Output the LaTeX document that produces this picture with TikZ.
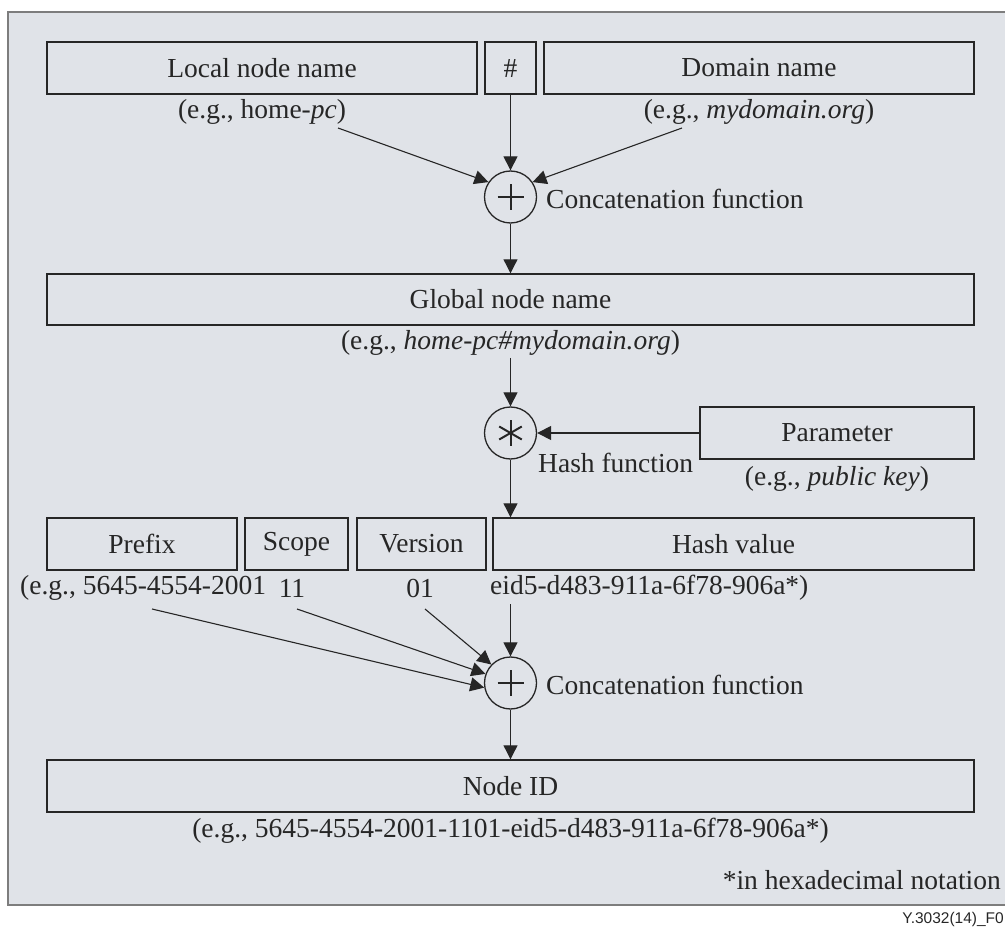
\documentclass[tikz,border=0pt]{standalone}
\usepackage{fontspec}
\setmainfont{Liberation Serif}
\setsansfont{Liberation Sans}
\usetikzlibrary{arrows.meta}
\definecolor{bgc}{RGB}{224,227,232}
\definecolor{framec}{RGB}{125,125,125}
\definecolor{inkc}{RGB}{38,38,38}
\begin{document}
\begin{tikzpicture}[x=1pt,y=-1pt,
  every node/.style={text=inkc, font=\fontsize{27.5}{32}\selectfont},
  box/.style={draw=inkc, line width=1.4pt, minimum height=52pt, inner sep=0pt},
  lbl/.style={inner sep=0pt},
  op/.style={circle, draw=inkc, line width=1.3pt, minimum size=52pt, inner sep=0pt},
  sym/.style={draw=inkc, line width=2pt},
  arr/.style={draw=inkc, line width=1.1pt, -{Triangle[length=14pt,width=14pt]}},
]
\useasboundingbox (0,0) rectangle (1005,928);
\fill[bgc] (8,12) rectangle (1012,905);
\draw[framec, line width=1.5pt] (1012,12) -- (8,12) -- (8,905) -- (1012,905);

% top row
\node[box, minimum width=430pt] (local) at (262,68) {Local node name};
\node[box, minimum width=51pt] (sep) at (510.5,68) {\#};
\node[box, minimum width=430pt] (domain) at (759,68) {Domain name};
\node[lbl] (llocal) at (262,112) {(e.g., home-\textit{pc})};
\node[lbl] (ldomain) at (759,112) {(e.g., \textit{mydomain.org})};
\coordinate (a0) at (338,128);
\coordinate (b0) at (682,128);

\node[op] (c1) at (510.5,197) {};
\draw[sym] ([xshift=-13pt]c1.center) -- ([xshift=13pt]c1.center);
\draw[sym] ([yshift=-13pt]c1.center) -- ([yshift=13pt]c1.center);
\node[lbl, anchor=west] (f1) at (546,199) {Concatenation function};

\draw[arr] (sep.south) -- (c1.north);
\draw[arr] (a0) -- (c1.146);
\draw[arr] (b0) -- (c1.34);

% global
\node[box, minimum width=927pt, minimum height=51pt] (global) at (510.5,299.5) {Global node name};
\node[lbl] (lglobal) at (510.5,343) {(e.g., \textit{home-pc\#mydomain.org})};
\draw[arr] (c1.south) -- (c1 |- global.north);
\coordinate (g0) at (510.5,358);

% hash
\node[op] (c2) at (510.5,433) {};
\foreach \a in {90,30,150} {
  \draw[sym] ([shift={(\a:13pt)}]c2.center) -- ([shift={(\a+180:13pt)}]c2.center);
}
\node[box, minimum width=274pt] (param) at (837,433) {Parameter};
\node[lbl, anchor=west] (f2) at (538,463) {Hash function};
\node[lbl] (lparam) at (837,479) {(e.g., \textit{public key})};
\draw[arr] (g0) -- (c2.north);
\draw[arr] (param.west) -- (c2.east);

% row
\node[box, minimum width=190pt] (prefix) at (142,544) {Prefix};
\node[box, minimum width=103pt] (scope) at (296.5,544) {Scope};
\node[box, minimum width=129pt] (version) at (421.5,544) {Version};
\node[box, minimum width=481pt] (hashval) at (733.5,544) {Hash value};
\draw[arr] (c2.south) -- (c2 |- hashval.north);

\node[lbl, anchor=west] (lprefix) at (20,588) {(e.g., 5645-4554-2001};
\node[lbl] (lscope) at (292,588) {11};
\node[lbl] (lversion) at (420,588) {01};
\node[lbl, anchor=west] (lhash) at (490,588) {eid5-d483-911a-6f78-906a*)};
\coordinate (p0) at (152,609);
\coordinate (s0) at (297,609);
\coordinate (v0) at (425,609);
\coordinate (h0) at (510.5,604);

\node[op] (c3) at (510.5,683) {};
\draw[sym] ([xshift=-13pt]c3.center) -- ([xshift=13pt]c3.center);
\draw[sym] ([yshift=-13pt]c3.center) -- ([yshift=13pt]c3.center);
\node[lbl, anchor=west] (f3) at (546,685) {Concatenation function};

\draw[arr] (h0) -- (c3.north);
\draw[arr] (v0) -- (c3.136);
\draw[arr] (s0) -- (c3.160);
\draw[arr] (p0) -- (c3.190);

% node id
\node[box, minimum width=927pt] (nodeid) at (510.5,786) {Node ID};
\draw[arr] (c3.south) -- (c3 |- nodeid.north);
\node[lbl] (lnodeid) at (510.5,831) {(e.g., 5645-4554-2001-1101-eid5-d483-911a-6f78-906a*)};

\node[lbl, anchor=east] (note) at (1001,880) {*in hexadecimal notation};
\node[lbl, anchor=east, font=\sffamily\fontsize{15.5}{18}\selectfont] (fig) at (1004,919) {Y.3032(14)\_F0};
\end{tikzpicture}
\end{document}
